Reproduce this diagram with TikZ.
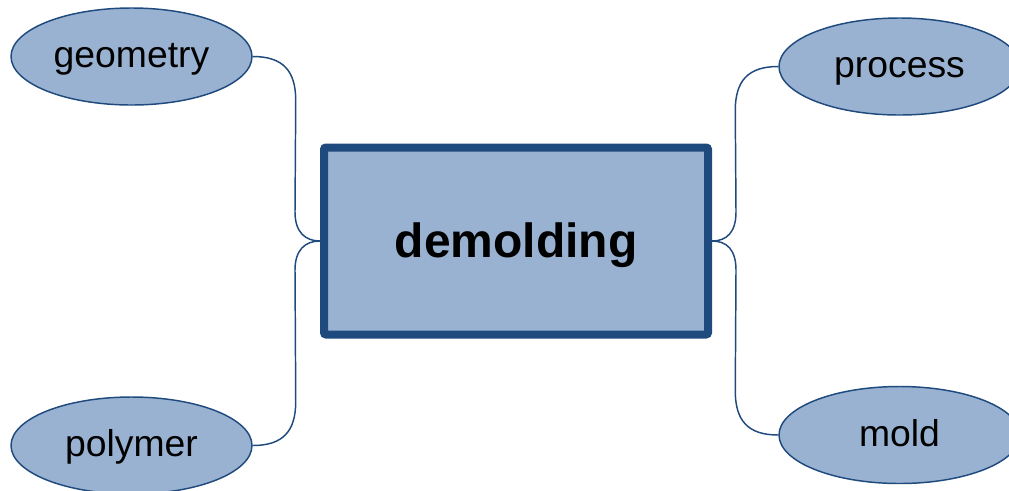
\documentclass[tikz,border=0pt]{standalone}
\usepackage{fontspec}
\setmainfont{Liberation Sans}
\usetikzlibrary{shapes.geometric,calc}
\definecolor{boxfill}{RGB}{154,178,209}
\definecolor{boxline}{RGB}{31,74,126}
\tikzset{
  x=0.75pt, y=-0.75pt,
  leaf/.style={ellipse, draw=boxline, fill=boxfill, line width=1.1pt,
    minimum width=180.75pt, minimum height=72.75pt, inner sep=0pt,
    text height=22pt, text depth=5.5pt,
    font=\fontsize{28}{32}\selectfont},
  hub/.style={rectangle, draw=boxline, fill=boxfill, line width=6pt,
    rounded corners=1.5pt, minimum width=288pt, minimum height=140.25pt,
    text height=30pt, text depth=6pt,
    inner sep=0pt, font=\fontsize{36}{42}\selectfont\bfseries},
  conn/.style={draw=boxline, line width=1.1pt}
}
\begin{document}
\begin{tikzpicture}
\useasboundingbox (0,0) rectangle (1009,490);
\clip (0,0) rectangle (1009,490);
\node[hub] (r) at (516,241) {demolding};
\node[leaf] (g) at (131.5,56.5) {geometry};
\node[leaf] (p) at (131.5,445.5) {polymer};
\node[leaf] (pr) at (899.5,66.5) {process};
\node[leaf] (m) at (899.5,435) {mold};
\draw[conn] (g.east) .. controls ($(g.east)+(30,0)$) and ($(g.east)+(43,14)$) .. ($(g.east)+(43,44)$)
  -- ($(r.west)+(-25,-29)$) .. controls ($(r.west)+(-25,-9)$) and ($(r.west)+(-15,0)$) .. (r.west);
\draw[conn] (r.west) .. controls ($(r.west)+(-15,0)$) and ($(r.west)+(-25,9)$) .. ($(r.west)+(-25,29)$)
  -- ($(p.east)+(43,-44)$) .. controls ($(p.east)+(43,-14)$) and ($(p.east)+(30,0)$) .. (p.east);
\draw[conn] (r.east) .. controls ($(r.east)+(15,0)$) and ($(r.east)+(24,-9)$) .. ($(r.east)+(24,-29)$)
  -- ($(pr.west)+(-43,44)$) .. controls ($(pr.west)+(-43,14)$) and ($(pr.west)+(-30,0)$) .. (pr.west);
\draw[conn] (r.east) .. controls ($(r.east)+(15,0)$) and ($(r.east)+(24,9)$) .. ($(r.east)+(24,29)$)
  -- ($(m.west)+(-43,-44)$) .. controls ($(m.west)+(-43,-14)$) and ($(m.west)+(-30,0)$) .. (m.west);
\end{tikzpicture}
\end{document}
